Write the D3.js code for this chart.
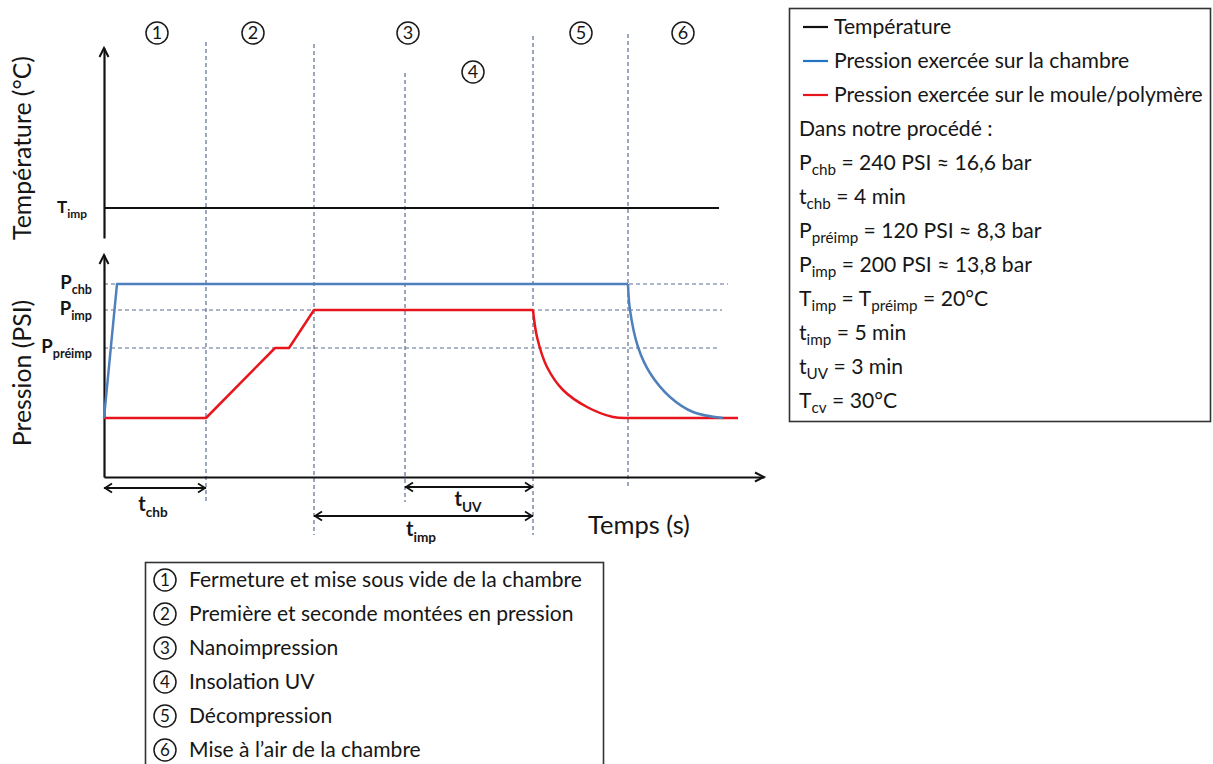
<!DOCTYPE html>
<html><head><meta charset="utf-8">
<script src="https://cdn.jsdelivr.net/npm/d3@7"></script>
<style>
body{margin:0;background:#fff}
svg{display:block}
text{font-family:Lato,"Open Sans",sans-serif;fill:#161616}
</style>
</head><body>
<svg id="c" width="1213" height="764"></svg>
<script>
// ---------------- data (schematic units) ----------------
const phaseDigits = ["1","2","3","4","5","6"];
const phaseNames = ["Fermeture et mise sous vide de la chambre","Première et seconde montées en pression","Nanoimpression","Insolation UV","Décompression","Mise à l’air de la chambre"];
const phaseBoundaryTimes = [102, 210, 301, 429, 524];
const phaseLabelTimes = [53, 149, 304, 369, 477, 579];
const temperatureSeries = [[0, 30], [615, 30]];
const temperatureTickValues = [30];
const temperatureTickSubs = ["imp"];
const pressureTickValues = [193, 167, 129];
const pressureTickSubs = ["chb", "imp", "préimp"];
const chamberRamp = [[0, 59], [13, 193], [524, 193]];
const chamberDecay = [[524, 193], [526, 167], [534, 130], [546, 104], [566, 80], [589, 65], [619, 59]];
const mouldRamp = [[0, 59], [102, 59], [171, 129], [185, 129], [210, 167], [429, 167]];
const mouldDecay = [[429, 167], [433, 140], [443, 110], [459, 87], [483, 70], [509, 60], [524, 59]];
const mouldTail = [[524, 59], [634, 59]];
const durationSubs = ["chb", "UV", "imp"];
const durationStarts = [0, 301, 210];
const durationEnds = [102, 429, 429];
const legendSeries = ["Température", "Pression exercée sur la chambre", "Pression exercée sur le moule/polymère"];
const processTitle = "Dans notre procédé :";
const processParams = [
  [["P"], ["chb", 1], [" = 240 PSI ≈ 16,6 bar"]],
  [["t"], ["chb", 1], [" = 4 min"]],
  [["P"], ["préimp", 1], [" = 120 PSI ≈ 8,3 bar"]],
  [["P"], ["imp", 1], [" = 200 PSI ≈ 13,8 bar"]],
  [["T"], ["imp", 1], [" = T"], ["préimp", 1], [" = 20°C"]],
  [["t"], ["imp", 1], [" = 5 min"]],
  [["t"], ["UV", 1], [" = 3 min"]],
  [["T"], ["cv", 1], [" = 30°C"]]
];

// ---------------- layout ----------------
const colBlack = "#111", colBlue = "#4f80bb", colBlueLeg = "#2173c4", colRed = "#e8151d", colDash = "#5c6e91";
const svg = d3.select("#c");
const x = d3.scaleLinear().domain([0, 660]).range([104, 764]);
const yT = d3.scaleLinear().domain([0, 190]).range([238, 48]);
const yP = d3.scaleLinear().domain([0, 222]).range([477, 255]);
const phaseTop = [42, 44, 73, 36, 34], phaseBottom = [502, 535, 502, 535, 487];
const phaseLabelY = [33, 33, 33, 72, 33, 33];
const guideEnds = [624, 618, 616];
const durationY = [488, 487, 516], durationLabelY = [511, 506, 536];
const durationLabelX = [49, 364, 317];

function fitSize(str, target, weight) {
  const t = svg.append("text").attr("font-size", 100).attr("font-weight", weight || 400).text(str);
  const w = t.node().getComputedTextLength(); t.remove();
  return 100 * target / w;
}
function rich(sel, segs, size, subScale) {
  let inSub = false;
  const sh = size * 0.28;
  segs.forEach(s => {
    const isSub = !!s[1];
    const ts = sel.append("tspan").text(s[0]).attr("font-size", isSub ? size * (subScale || 0.72) : size);
    if (isSub && !inSub) ts.attr("dy", sh);
    if (!isSub && inSub) ts.attr("dy", -sh);
    inSub = isSub;
  });
}

// phase dashed lines
svg.append("g").selectAll("line").data(phaseBoundaryTimes).join("line")
  .attr("x1", d => x(d)).attr("x2", d => x(d))
  .attr("y1", (d, i) => phaseTop[i]).attr("y2", (d, i) => phaseBottom[i])
  .attr("stroke", colDash).attr("stroke-width", 1.2).attr("stroke-dasharray", "4,3");

// pressure guides
svg.append("g").selectAll("line").data(pressureTickValues).join("line")
  .attr("x1", x(0)).attr("x2", (d, i) => x(guideEnds[i]))
  .attr("y1", d => yP(d)).attr("y2", d => yP(d))
  .attr("stroke", colDash).attr("stroke-width", 1.2).attr("stroke-dasharray", "4,3");

// axes
const axT = svg.append("g").attr("transform", `translate(${x(0)},0)`)
  .call(d3.axisLeft(yT).tickValues([]).tickSizeOuter(0));
const axP = svg.append("g").attr("transform", `translate(${x(0)},0)`)
  .call(d3.axisLeft(yP).tickValues([]).tickSizeOuter(0));
const axX = svg.append("g").attr("transform", `translate(0,${yP(0)})`)
  .call(d3.axisBottom(x).tickValues([]).tickSizeOuter(0));
[axT, axP, axX].forEach(g => g.select(".domain").attr("stroke", colBlack).attr("stroke-width", 2.2));
// arrow heads
const ah = svg.append("g").attr("fill", "none").attr("stroke", colBlack).attr("stroke-width", 2).attr("stroke-linejoin", "miter");
ah.append("path").attr("d", `M${x(0) - 4.5},${yT(190) + 9}L${x(0)},${yT(190)}L${x(0) + 4.5},${yT(190) + 9}`);
ah.append("path").attr("d", `M${x(0) - 4.5},${yP(222) + 9}L${x(0)},${yP(222)}L${x(0) + 4.5},${yP(222) + 9}`);
ah.append("path").attr("d", `M${x(660) - 9},${yP(0) - 4.5}L${x(660)},${yP(0)}L${x(660) - 9},${yP(0) + 4.5}`);

// temperature line
const lineT = d3.line().x(d => x(d[0])).y(d => yT(d[1]));
svg.append("path").datum(temperatureSeries).attr("d", lineT).attr("fill", "none").attr("stroke", colBlack).attr("stroke-width", 2.2);

// pressure curves
const lin = d3.line().x(d => x(d[0])).y(d => yP(d[1]));
const crv = d3.line().x(d => x(d[0])).y(d => yP(d[1])).curve(d3.curveCatmullRom);
const cg = svg.append("g").attr("fill", "none").attr("stroke-width", 2.5).attr("stroke-linejoin", "round");
cg.append("path").datum(mouldRamp).attr("d", lin).attr("stroke", colRed);
cg.append("path").datum(mouldDecay).attr("d", crv).attr("stroke", colRed);
cg.append("path").datum(mouldTail).attr("d", lin).attr("stroke", colRed);
cg.append("path").datum(chamberRamp).attr("d", lin).attr("stroke", colBlue);
cg.append("path").datum(chamberDecay).attr("d", crv).attr("stroke", colBlue);

// tick labels
const tickSize = 18.5;
temperatureTickValues.forEach((v, i) => {
  const t = svg.append("text").attr("x", 87).attr("y", yT(v) + 5).attr("text-anchor", "end").attr("font-weight", 700);
  rich(t, [["T"], [temperatureTickSubs[i], 1]], 17, 0.7);
});
pressureTickValues.forEach((v, i) => {
  const t = svg.append("text").attr("x", 92).attr("y", yP(v) + 5).attr("text-anchor", "end").attr("font-weight", 700);
  rich(t, [["P"], [pressureTickSubs[i], 1]], tickSize, 0.68);
});

// axis titles
const sT = fitSize("Température (°C)", 184);
svg.append("text").attr("transform", "translate(31,148) rotate(-90)").attr("text-anchor", "middle").attr("font-size", sT).text("Température (°C)");
svg.append("text").attr("transform", "translate(31,373) rotate(-90)").attr("text-anchor", "middle").attr("font-size", sT).text("Pression (PSI)");
const sX = fitSize("Temps (s)", 102);
svg.append("text").attr("x", 588).attr("y", 534).attr("font-size", sX).text("Temps (s)");

// phase circled numbers
function circled(g, cx, cy, r, digit, fs) {
  g.append("circle").attr("cx", cx).attr("cy", cy).attr("r", r).attr("fill", "none").attr("stroke", "#1a1a1a").attr("stroke-width", 1.5);
  g.append("text").attr("x", cx).attr("y", cy + fs * 0.36).attr("text-anchor", "middle").attr("font-size", fs).text(digit);
}
const pg = svg.append("g");
phaseDigits.forEach((d, i) => circled(pg, x(phaseLabelTimes[i]), phaseLabelY[i], 11, d, 18));

// duration arrows
const dg = svg.append("g");
durationSubs.forEach((s, i) => {
  const x1 = x(durationStarts[i]), x2 = x(durationEnds[i]), yy = durationY[i];
  dg.append("line").attr("x1", x1).attr("x2", x2).attr("y1", yy).attr("y2", yy).attr("stroke", colBlack).attr("stroke-width", 1.8);
  dg.append("path").attr("fill", "none").attr("stroke", colBlack).attr("stroke-width", 1.8)
    .attr("d", `M${x1 + 8},${yy - 4.5}L${x1 + 1},${yy}L${x1 + 8},${yy + 4.5}M${x2 - 8},${yy - 4.5}L${x2 - 1},${yy}L${x2 - 8},${yy + 4.5}`);
  const t = dg.append("text").attr("x", x(durationLabelX[i])).attr("y", durationLabelY[i]).attr("text-anchor", "middle").attr("font-weight", 700);
  rich(t, [["t"], [s, 1]], 20, 0.68);
});

// right legend box
const rb = svg.append("g");
rb.append("rect").attr("x", 789.5).attr("y", 8.5).attr("width", 421).attr("height", 413).attr("fill", "#fff").attr("stroke", "#333").attr("stroke-width", 1.6);
const sL = fitSize(legendSeries[2], 369);
const legCols = [colBlack, colBlueLeg, colRed];
legendSeries.forEach((s, i) => {
  const cy = 27 + 34 * i;
  rb.append("line").attr("x1", 803).attr("x2", 828).attr("y1", cy).attr("y2", cy).attr("stroke", legCols[i]).attr("stroke-width", 2.2);
  rb.append("text").attr("x", 834).attr("y", cy + 6.5).attr("font-size", sL).text(s);
});
rb.append("text").attr("x", 799).attr("y", 27 + 34 * 3 + 6.5).attr("font-size", sL).text(processTitle);
processParams.forEach((segs, i) => {
  const t = rb.append("text").attr("x", 799).attr("y", 27 + 34 * (4 + i) + 6.5);
  rich(t, segs, sL, 0.72);
});

// bottom legend box
const bb = svg.append("g");
bb.append("rect").attr("x", 145.5).attr("y", 562.5).attr("width", 458).attr("height", 220).attr("fill", "#fff").attr("stroke", "#333").attr("stroke-width", 1.6);
const sB = fitSize(phaseNames[0], 393);
phaseNames.forEach((n, i) => {
  const cy = 580 + 34 * i;
  circled(bb, 165, cy, 11, phaseDigits[i], 17);
  bb.append("text").attr("x", 189).attr("y", cy + 6.5).attr("font-size", sB).text(n);
});
</script>
</body></html>
